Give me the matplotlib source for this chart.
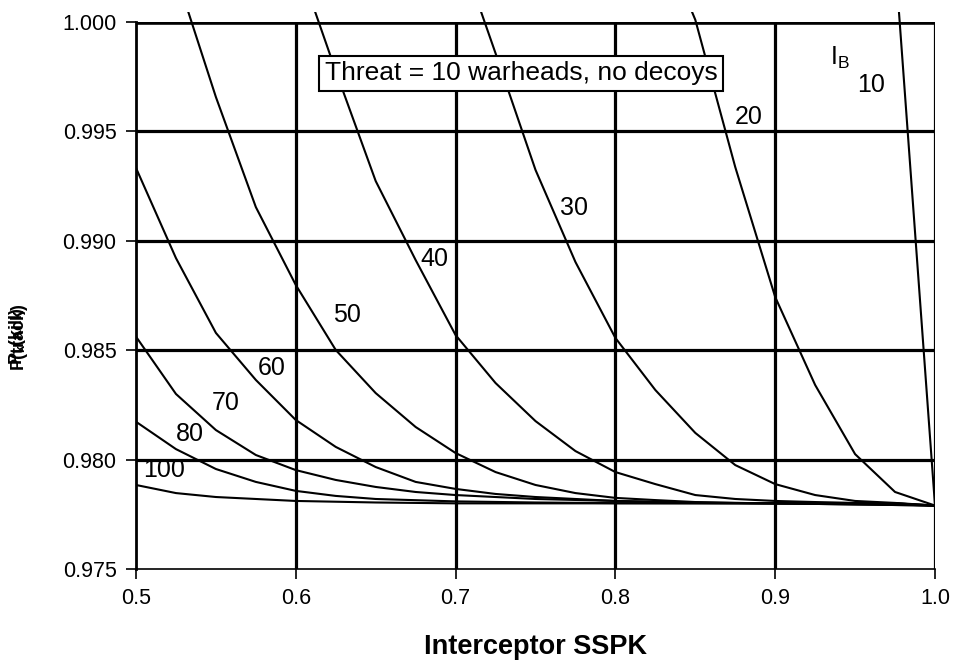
import matplotlib
matplotlib.use("Agg")
import matplotlib.pyplot as plt
from matplotlib.patches import Rectangle

plt.rcParams['font.family'] = ['Liberation Sans', 'DejaVu Sans']
plt.rcParams['mathtext.fontset'] = 'custom'
plt.rcParams['mathtext.rm'] = 'Liberation Sans'
plt.rcParams['mathtext.bf'] = 'Liberation Sans:bold'

# SSPK sample points (x) for each curve, and P values
x10 = [0.975, 1.0]
y10 = [1.0029, 0.9779]

x20 = [0.825, 0.85, 0.875, 0.9, 0.925, 0.95, 0.975, 1.0]
y20 = [1.0045, 1.0001, 0.99337, 0.98743, 0.98341, 0.98025, 0.97852, 0.9779]

x30 = [0.7, 0.725, 0.75, 0.775, 0.8, 0.825, 0.85, 0.875, 0.9, 0.925, 0.95, 0.975, 1.0]
y30 = [1.0038, 0.99857, 0.99324, 0.98903, 0.98556, 0.98318, 0.98122, 0.97975,
       0.97888, 0.97838, 0.97811, 0.97802, 0.9779]

x40 = [0.6, 0.625, 0.65, 0.675, 0.7, 0.725, 0.75, 0.775, 0.8, 0.825, 0.85,
       0.875, 0.9, 0.925, 0.95, 0.975, 1.0]
y40 = [1.0030, 0.99776, 0.99273, 0.98912, 0.98569, 0.98350, 0.98176, 0.98039,
       0.97943, 0.97888, 0.97838, 0.97820, 0.97811, 0.97806, 0.97802, 0.97800, 0.9779]

x50 = [0.525, 0.55, 0.575, 0.6, 0.625, 0.65, 0.675, 0.7, 0.725, 0.75, 0.775,
       0.8, 0.825, 0.85, 0.875, 0.9, 0.925, 0.95, 0.975, 1.0]
y50 = [1.0022, 0.99657, 0.99154, 0.98798, 0.98501, 0.98304, 0.98149, 0.98030,
       0.97943, 0.97884, 0.97847, 0.97825, 0.97815, 0.97806, 0.97802, 0.97800,
       0.97800, 0.97800, 0.97800, 0.9779]

x60 = [0.5, 0.525, 0.55, 0.575, 0.6, 0.625, 0.65, 0.675, 0.7, 0.725, 0.75,
       0.775, 0.8, 0.825, 0.85, 0.9, 0.95, 1.0]
y60 = [0.99333, 0.98921, 0.98579, 0.98364, 0.98181, 0.98058, 0.97966, 0.97898,
       0.97866, 0.97843, 0.97829, 0.97820, 0.97811, 0.97806, 0.97802, 0.97800,
       0.97800, 0.9779]

x70 = [0.5, 0.525, 0.55, 0.575, 0.6, 0.625, 0.65, 0.675, 0.7, 0.725, 0.75,
       0.8, 0.85, 0.9, 0.95, 1.0]
y70 = [0.98562, 0.98300, 0.98135, 0.98021, 0.97952, 0.97907, 0.97875, 0.97852,
       0.97838, 0.97829, 0.97820, 0.97811, 0.97804, 0.97800, 0.97800, 0.9779]

x80 = [0.5, 0.525, 0.55, 0.575, 0.6, 0.625, 0.65, 0.7, 0.75, 0.8, 0.9, 1.0]
y80 = [0.98173, 0.98048, 0.97957, 0.97898, 0.97857, 0.97834, 0.97820, 0.97809,
       0.97804, 0.97801, 0.97800, 0.9779]

x100 = [0.5, 0.525, 0.55, 0.575, 0.6, 0.65, 0.7, 0.8, 0.9, 1.0]
y100 = [0.97884, 0.97847, 0.97829, 0.97820, 0.97811, 0.97804, 0.97800, 0.97800,
        0.97800, 0.9779]

series = [(x10, y10), (x20, y20), (x30, y30), (x40, y40), (x50, y50),
          (x60, y60), (x70, y70), (x80, y80), (x100, y100)]

curve_labels = ["10", "20", "30", "40", "50", "60", "70", "80", "100"]
label_pos = [(0.9599, 0.99712), (0.8836, 0.99566), (0.7741, 0.99150), (0.6865, 0.98917),
             (0.6320, 0.98661), (0.5851, 0.98419), (0.5563, 0.98259), (0.5338, 0.98117),
             (0.5175, 0.97952)]

xticks = [0.5, 0.6, 0.7, 0.8, 0.9, 1.0]
xticklabels = ["0.5", "0.6", "0.7", "0.8", "0.9", "1.0"]
yticks = [0.975, 0.980, 0.985, 0.990, 0.995, 1.000]
yticklabels = ["0.975", "0.980", "0.985", "0.990", "0.995", "1.000"]

fig = plt.figure(figsize=(9.64, 6.69), dpi=100)
ax = fig.add_axes([136/964, 1-569/669, (935-136)/964, (569-22)/669])
ax.set_xlim(0.5, 1.0)
ax.set_ylim(0.975, 1.0)

# grid lines
for xv in xticks[1:]:
    ax.axvline(xv, color='black', lw=2.3, zorder=1)
for yv in yticks[1:]:
    ax.axhline(yv, color='black', lw=2.3 if yv < 1.0 else 3.3, zorder=1)

clip = Rectangle((0, 0), 1, 1 + 10/547, transform=ax.transAxes, facecolor='none',
                 edgecolor='none')
ax.add_patch(clip)
for xs, ys in series:
    ln, = ax.plot(xs, ys, color='black', lw=1.5, zorder=3, clip_on=True)
    ln.set_clip_path(clip)

for t, (lx, ly) in zip(curve_labels, label_pos):
    ax.text(lx, ly, t, fontsize=18, ha='center', va='center', zorder=4)
ax.text(0.9343, 0.99803, r"I$_\mathrm{B}$", fontsize=18, ha='left', va='baseline')

ax.text(0.7409, 0.99765, "Threat = 10 warheads, no decoys", fontsize=19,
        ha='center', va='center', zorder=5,
        bbox=dict(boxstyle='square,pad=0.22', facecolor='white', edgecolor='black', lw=1.5))

ax.set_xticks(xticks)
ax.set_xticklabels(xticklabels, fontsize=15.5)
ax.set_yticks(yticks)
ax.set_yticklabels(yticklabels, fontsize=15.5)
ax.tick_params(direction='out', length=7, width=1.2, pad=7)

for s in ['top', 'right']:
    ax.spines[s].set_visible(False)
ax.spines['left'].set_linewidth(2.0)
ax.spines['bottom'].set_linewidth(1.2)

ax.set_xlabel("Interceptor SSPK", fontsize=19.5, fontweight='bold', labelpad=18)
fig.text(18/964, 1-336/669, "P(track)", rotation=90, fontsize=13, fontweight='bold',
         ha='center', va='center')
fig.text(18/964, 1-336/669, r"P$_\mathbf{k}$(kill)", rotation=90, fontsize=13,
         fontweight='bold', ha='center', va='center')

fig.savefig("out.png", dpi=100)
